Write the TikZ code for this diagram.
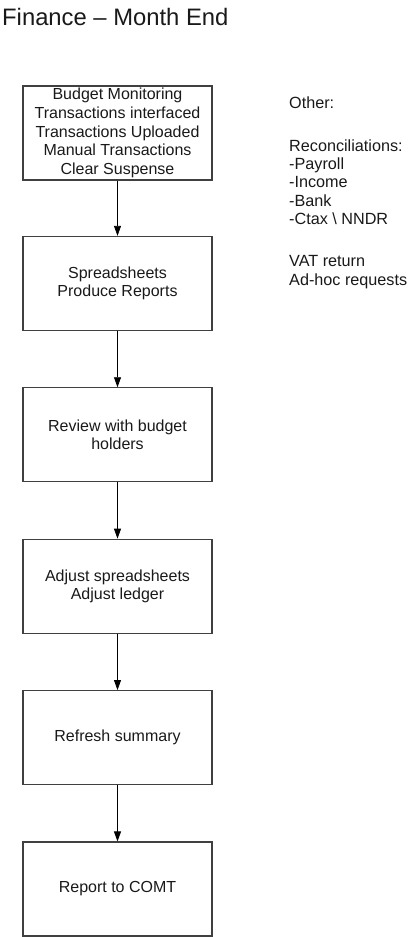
\documentclass[tikz,border=0pt]{standalone}
\usepackage{fontspec}
\setmainfont{Liberation Sans}
\usetikzlibrary{arrows.meta}
\begin{document}
\begin{tikzpicture}[x=1pt,y=-1pt,
  stepbox/.style={draw=black!75, line width=1.1pt, minimum width=189pt, minimum height=94pt,
    align=center, inner sep=0pt, font=\fontsize{16}{18.6}\selectfont, text=black!90},
  flow/.style={draw=black, line width=0.8pt, -{Triangle[length=10pt,width=7pt]}}]
\useasboundingbox (0,0) rectangle (409,937);
\node[anchor=base west, inner sep=0pt, font=\fontsize{23.8}{28}\selectfont, text=black!90] (title) at (2,25) {Finance -- Month End};
\node[stepbox] (b1) at (117.5,133) {Budget Monitoring\\Transactions interfaced\\Transactions Uploaded\\Manual Transactions\\Clear Suspense};
\node[stepbox] (b2) at (117.5,283.4) {Spreadsheets\\Produce Reports};
\node[stepbox] (b3) at (117.5,434.8) {Review with budget\\holders};
\node[stepbox] (b4) at (117.5,586.2) {Adjust spreadsheets\\Adjust ledger};
\node[stepbox] (b5) at (117.5,737.6) {Refresh summary};
\node[stepbox] (b6) at (117.5,889) {Report to COMT};
\draw[flow] (b1) -- (b2);
\draw[flow] (b2) -- (b3);
\draw[flow] (b3) -- (b4);
\draw[flow] (b4) -- (b5);
\draw[flow] (b5) -- (b6);
\node[anchor=north west, inner sep=0pt, align=left, font=\fontsize{16.2}{18.3}\selectfont, text=black!90] (other) at (289,97)
  {Other:\\[24pt]Reconciliations:\\-Payroll\\-Income\\-Bank\\-Ctax \textbackslash{} NNDR\\[24pt]VAT return\\Ad-hoc requests};
\end{tikzpicture}
\end{document}
